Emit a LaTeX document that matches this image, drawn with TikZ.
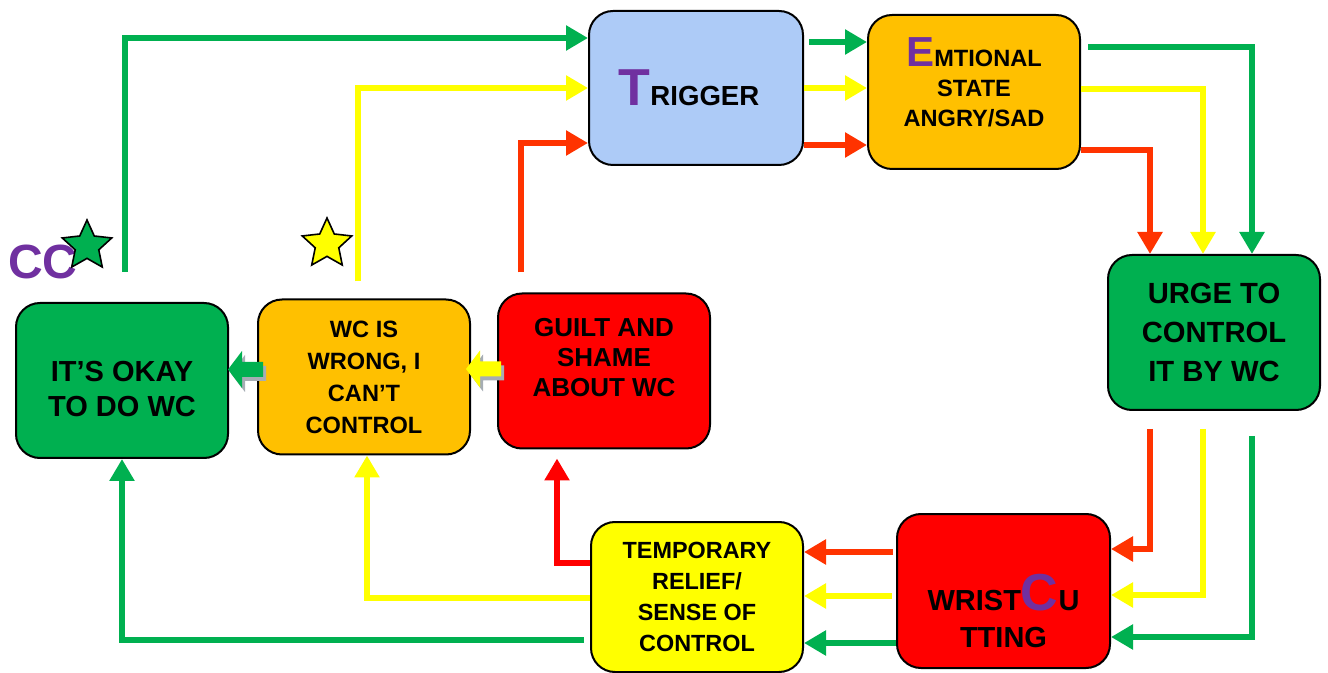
\documentclass[tikz,border=0pt]{standalone}
\usepackage{fontspec}
\setmainfont{Liberation Sans}
\usetikzlibrary{arrows.meta, positioning, calc, shapes.geometric}

\definecolor{verde}{HTML}{00B050}
\definecolor{amarelo}{HTML}{FFFF00}
\definecolor{vermelho}{HTML}{FF3300}
\definecolor{laranja}{HTML}{FFC000}
\definecolor{azulclaro}{HTML}{ADCBF7}
\definecolor{roxo}{HTML}{7030A0}
\definecolor{sombra}{HTML}{A6ADB4}

\begin{document}
\begin{tikzpicture}[x=0.5pt, y=-0.5pt,
  caixa/.style={draw=black, line width=1pt, rounded corners=12pt, minimum width=106pt,
                minimum height=77.5pt, inner sep=0pt, align=center},
  texto/.style={align=center, inner sep=0pt},
  fluxo/.style={line width=3pt, -{Triangle[length=11pt,width=12pt]}},
  blocoseta/.pic={\fill (0,0) -- (14,-18.5) -- (14,-7.5) -- (35,-7.5) -- (35,7.5) -- (14,7.5) -- (14,18.5) -- cycle;},
  estrela/.style={star, star points=5, star point ratio=2.1, draw=black, line width=0.8pt,
                  inner sep=0pt, minimum size=26pt}]
  \useasboundingbox (0,0) rectangle (1328,673);
  % Caixas
  \node[caixa, fill=verde] (okay) at (122,380.5) {};
  \node[caixa, fill=laranja, font=\bfseries\fontsize{11.8}{16}\selectfont] (wrong) at (364,377)
    {WC IS\\WRONG, I\\CAN’T\\CONTROL};
  \node[caixa, fill=red] (guilt) at (604,371) {};
  \node[caixa, fill=azulclaro, minimum width=107pt, minimum height=77pt] (trigger) at (696,88) {};
  \node[caixa, fill=laranja, minimum height=77pt] (emot) at (974,92) {};
  \node[caixa, fill=verde, font=\bfseries\fontsize{14.6}{19.5}\selectfont] (urge) at (1214,332.5)
    {URGE TO\\CONTROL\\IT BY WC};
  \node[caixa, fill=red, minimum width=106.5pt, minimum height=77pt] (wrist) at (1003.5,591) {};
  \node[caixa, fill=amarelo, minimum height=75pt, font=\bfseries\fontsize{11.7}{15.5}\selectfont] (relief) at (697,597)
    {TEMPORARY\\RELIEF/\\SENSE OF\\CONTROL};
  % Textos deslocados
  \node[texto, font=\bfseries\fontsize{14.5}{17.5}\selectfont] (okaytxt) at ([yshift=-4.5pt]okay.center)
    {IT’S OKAY\\TO DO WC};
  \node[texto, font=\bfseries\fontsize{13}{15}\selectfont] (guilttxt) at ([yshift=6.75pt]guilt.center)
    {GUILT AND\\SHAME\\ABOUT WC};
  \node[texto, font=\bfseries\fontsize{13.8}{17}\selectfont] (triggertxt) at ([xshift=-3.5pt]trigger.center)
    {{\color{roxo}\fontsize{26}{26}\selectfont T}RIGGER};
  \node[texto, font=\bfseries\fontsize{11.8}{15}\selectfont] (emottxt) at ([yshift=5pt]emot.center)
    {{\color{roxo}\fontsize{21}{21}\selectfont E}MTIONAL\\STATE\\ANGRY/SAD};
  \node[texto, font=\bfseries\fontsize{14.5}{18.5}\selectfont] (wristtxt) at ([yshift=-10pt]wrist.center)
    {WRIST{\color{roxo}\fontsize{26}{26}\selectfont C}U\\TTING};
  % CC e estrelas
  \node[font=\bfseries\fontsize{24}{24}\selectfont, text=roxo, inner sep=0pt] (cc) at (43,262) {CC};
  \node[estrela, fill=verde] (estverde) at (87,246) {};
  \node[estrela, fill=amarelo] (estamarela) at (327,244) {};
  % Setas verdes
  \draw[fluxo, verde] ([xshift=1.5pt,yshift=15pt]okay.north) |- ([yshift=25pt]trigger.west);
  \draw[fluxo, verde] ([xshift=2.5pt,yshift=23pt]trigger.east) -- ([yshift=25pt]emot.west);
  \draw[fluxo, verde] ([xshift=3.5pt,yshift=22.5pt]emot.east) -| ([xshift=19pt]urge.north);
  \draw[fluxo, verde] ([xshift=19pt,yshift=-12.5pt]urge.south) |- ([yshift=-23pt]wrist.east);
  \draw[fluxo, verde] ([yshift=-26pt]wrist.west) -- ([yshift=-23pt]relief.east);
  \draw[fluxo, verde] ([xshift=-3pt,yshift=-21.5pt]relief.west) -| (okay.south);
  \pic[fill=sombra] at ($(okay.east)+(2,-7)$) {blocoseta};
  \pic[fill=verde] (setaverde) at ($(okay.east)+(-1,-11)$) {blocoseta};
  % Setas amarelas
  \draw[fluxo, amarelo] ([xshift=-3pt,yshift=8.5pt]wrong.north) |- (trigger.west);
  \draw[fluxo, amarelo] (trigger.east) -- (trigger.east -| emot.west);
  \draw[fluxo, amarelo] ([yshift=1.5pt]emot.east) -| ([xshift=-5.5pt]urge.north);
  \draw[fluxo, amarelo] ([xshift=-5.5pt,yshift=-9pt]urge.south) |- ([yshift=-2pt]wrist.east);
  \draw[fluxo, amarelo] ([xshift=-2pt,yshift=-2.5pt]wrist.west) -- ([yshift=0.5pt]relief.east);
  \draw[fluxo, amarelo] ([yshift=-0.5pt]relief.west) -| ([xshift=1.5pt]wrong.south);
  \pic[fill=sombra] at ($(wrong.east)+(-2,-4)$) {blocoseta};
  \pic[fill=amarelo] (setaamarela) at ($(wrong.east)+(-5,-8)$) {blocoseta};
  % Setas vermelhas
  \draw[fluxo, vermelho] ([xshift=-41.5pt,yshift=10pt]guilt.north) |- ([yshift=-27.5pt]trigger.west);
  \draw[fluxo, vermelho] ([yshift=-28.5pt]trigger.east) -- ([yshift=-26.5pt]emot.west);
  \draw[fluxo, vermelho] ([yshift=-29pt]emot.east) -| ([xshift=-32pt]urge.north);
  \draw[fluxo, vermelho] ([xshift=-32pt,yshift=-9pt]urge.south) |- ([yshift=21pt]wrist.east);
  \draw[fluxo, vermelho] ([xshift=-1.5pt,yshift=19.5pt]wrist.west) -- ([yshift=22.5pt]relief.east);
  \draw[fluxo, red, shorten >=4.5pt] ([yshift=17pt]relief.west) -| ([xshift=-23.5pt]guilt.south);
\end{tikzpicture}
\end{document}
